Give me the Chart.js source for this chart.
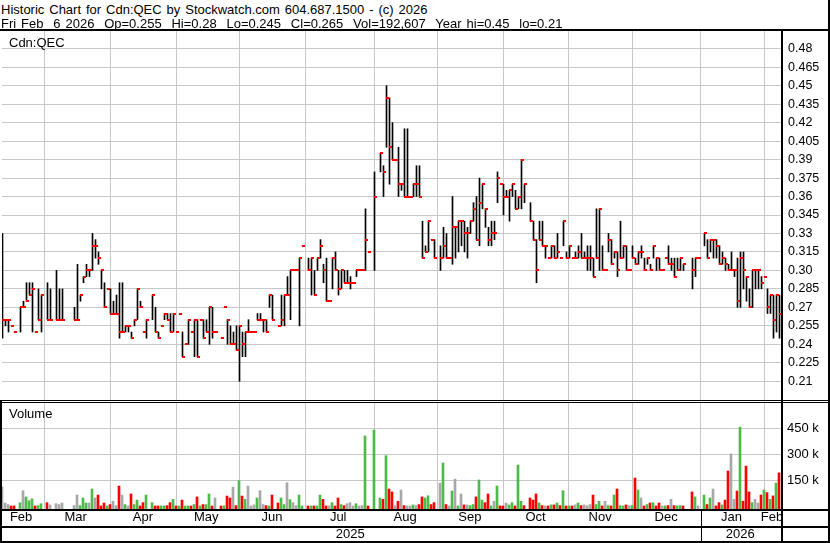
<!DOCTYPE html>
<html>
<head>
<meta charset="utf-8">
<title>Historic Chart for Cdn:QEC</title>
<script src="https://cdn.jsdelivr.net/npm/chart.js@4.4.1/dist/chart.umd.min.js"></script>
<style>
  html, body { margin: 0; padding: 0; background: #fff; }
  #wrap { position: relative; width: 830px; height: 543px; overflow: hidden; background: #fff;
          font-family: "Liberation Sans", Arial, sans-serif; color: #000; }
  .txt { position: absolute; font-size: 13px; line-height: 13px; white-space: pre; }
  .hdr { word-spacing: 1.3px; }
  .ln { position: absolute; background: #000; }
  canvas { position: absolute; left: 0; }
</style>
</head>
<body>
<div id="wrap">
  <canvas id="chart-price" width="830" height="369" style="top:31px"></canvas>
  <canvas id="chart-vol" width="830" height="138" style="top:403px"></canvas>

  <div class="txt hdr" style="left:1px;top:3px">Historic Chart for Cdn:QEC by Stockwatch.com 604.687.1500 - (c) 2026</div>
  <div class="txt hdr" style="left:1px;top:17px">Fri Feb  6 2026  Op=0.255  Hi=0.28  Lo=0.245  Cl=0.265  Vol=192,607  Year hi=0.45  lo=0.21</div>

  <div class="txt" style="left:9px;top:36px">Cdn:QEC</div>
  <div class="txt" style="left:9px;top:407px">Volume</div>

  <!-- frame -->
  <div class="ln" style="left:0;top:29px;width:830px;height:2px"></div>
  <div class="ln" style="left:0;top:400px;width:830px;height:1px"></div>
  <div class="ln" style="left:0;top:402px;width:830px;height:1px"></div>
  <div class="ln" style="left:0;top:509px;width:830px;height:2px"></div>
  <div class="ln" style="left:0;top:526px;width:830px;height:2px"></div>
  <div class="ln" style="left:0;top:541px;width:830px;height:2px"></div>
  <div class="ln" style="left:0;top:401px;width:2px;height:142px"></div>
  <div class="ln" style="left:781px;top:29px;width:2px;height:514px"></div>
  <div class="ln" style="left:828px;top:0;width:2px;height:543px"></div>
  <div class="ln" style="left:701px;top:511px;width:1px;height:30px"></div>
</div>

<script>
// Cdn:QEC daily bars, one slot per market day (Feb 2025 - Feb 6 2026), null = no trade

const highs = [
    0.33, 0.26, 0.26, 0.255, 0.25, null, 0.27, 0.275, 0.29, 0.29,
    0.29, 0.25, 0.285, 0.28, null, 0.29, 0.285, null, 0.30, 0.285,
    0.285, null, null, null, 0.27, 0.305, 0.28, 0.295, 0.305, 0.30,
    0.33, 0.325, 0.315, 0.30, 0.29, 0.285, 0.285, 0.275, 0.28, 0.29,
    0.29, 0.255, 0.255, 0.25, 0.26, 0.285, 0.275, 0.25, 0.26, null,
    0.28, 0.27, 0.25, 0.255, 0.265, 0.265, 0.265, 0.265, 0.25, 0.265,
    0.25, 0.24, 0.26, 0.25, 0.26, 0.26, 0.26, 0.26, 0.26, 0.27,
    0.27, 0.25, null, 0.245, 0.27, 0.26, 0.255, 0.25, 0.255, 0.255,
    0.25, 0.25, 0.26, 0.25, 0.25, 0.265, 0.265, 0.26, 0.26, 0.28,
    0.28, null, 0.255, 0.28, 0.28, 0.295, 0.30, 0.30, 0.30, 0.31,
    0.32, null, 0.31, 0.31, 0.30, 0.31, 0.325, 0.305, 0.31, 0.275,
    0.31, 0.315, 0.30, 0.30, 0.30, 0.30, 0.295, 0.29, 0.30, 0.30,
    0.30, 0.35, 0.315, null, 0.38, null, 0.395, 0.385, 0.45, 0.44,
    0.42, 0.39, 0.40, 0.37, 0.415, 0.415, 0.36, 0.37, 0.385, 0.385,
    0.34, 0.32, 0.34, 0.325, 0.325, null, 0.32, 0.335, 0.33, 0.31,
    0.36, 0.335, 0.34, 0.34, 0.34, 0.335, 0.34, 0.355, 0.36, 0.375,
    0.37, 0.35, 0.335, 0.34, 0.34, 0.38, 0.37, 0.37, 0.365, 0.365,
    0.37, 0.365, 0.36, 0.39, 0.37, null, 0.355, 0.34, 0.325, 0.34,
    0.34, 0.32, 0.31, 0.32, 0.32, 0.33, 0.31, 0.34, 0.315, 0.32,
    0.31, 0.315, 0.32, 0.33, 0.315, 0.32, 0.32, 0.31, 0.35, 0.35,
    0.32, 0.30, 0.33, 0.325, 0.315, 0.315, 0.34, 0.32, 0.32, 0.30,
    0.32, 0.31, 0.315, 0.32, 0.31, 0.31, 0.305, 0.32, 0.31, 0.31,
    0.30, 0.31, 0.32, 0.31, 0.31, 0.31, 0.31, 0.305, null, null,
    0.31, 0.31, 0.31, null, 0.33, 0.325, 0.325, 0.325, 0.325, 0.32,
    0.315, 0.31, 0.305, 0.315, 0.30, 0.31, 0.315, 0.315, 0.295, 0.285,
    0.30, 0.30, 0.30, 0.295, 0.295, 0.285, 0.28, 0.28, 0.28, 0.28
];

const lows = [
    0.245, 0.255, 0.25, 0.255, 0.25, null, 0.25, 0.27, 0.275, 0.28,
    0.25, 0.25, 0.26, 0.25, null, 0.26, 0.26, null, 0.26, 0.26,
    0.26, null, null, null, 0.26, 0.26, 0.275, 0.29, 0.295, 0.295,
    0.30, 0.31, 0.305, 0.285, 0.27, 0.285, 0.265, 0.265, 0.265, 0.245,
    0.25, 0.25, 0.25, 0.245, 0.255, 0.26, 0.27, 0.25, 0.245, null,
    0.26, 0.25, 0.245, 0.255, 0.26, 0.26, 0.25, 0.25, 0.25, 0.265,
    0.23, 0.24, 0.24, 0.25, 0.23, 0.23, 0.26, 0.245, 0.25, 0.24,
    0.245, 0.25, null, 0.245, 0.27, 0.24, 0.24, 0.24, 0.235, 0.21,
    0.23, 0.23, 0.25, 0.25, 0.25, 0.26, 0.26, 0.25, 0.25, 0.27,
    0.26, null, 0.255, 0.255, 0.255, 0.28, 0.26, 0.30, 0.30, 0.255,
    0.32, null, 0.30, 0.28, 0.28, 0.30, 0.31, 0.29, 0.275, 0.275,
    0.285, 0.30, 0.28, 0.285, 0.29, 0.29, 0.285, 0.29, 0.295, 0.30,
    0.30, 0.30, 0.315, null, 0.30, null, 0.38, 0.36, 0.40, 0.37,
    0.39, 0.39, 0.36, 0.365, 0.36, 0.36, 0.36, 0.36, 0.36, 0.36,
    0.31, 0.315, 0.315, 0.325, 0.31, null, 0.30, 0.31, 0.31, 0.31,
    0.305, 0.31, 0.315, 0.32, 0.315, 0.31, 0.33, 0.34, 0.325, 0.32,
    0.35, 0.335, 0.32, 0.32, 0.325, 0.355, 0.37, 0.345, 0.36, 0.34,
    0.36, 0.35, 0.35, 0.35, 0.355, null, 0.34, 0.325, 0.29, 0.325,
    0.32, 0.31, 0.31, 0.31, 0.31, 0.31, 0.31, 0.32, 0.31, 0.31,
    0.31, 0.31, 0.31, 0.31, 0.31, 0.30, 0.30, 0.295, 0.31, 0.30,
    0.30, 0.30, 0.315, 0.305, 0.31, 0.295, 0.31, 0.31, 0.30, 0.30,
    0.31, 0.305, 0.305, 0.31, 0.30, 0.305, 0.30, 0.31, 0.30, 0.30,
    0.30, 0.31, 0.305, 0.30, 0.295, 0.30, 0.30, 0.30, null, null,
    0.285, 0.295, 0.31, null, 0.32, 0.31, 0.315, 0.31, 0.31, 0.305,
    0.305, 0.30, 0.30, 0.30, 0.295, 0.27, 0.27, 0.285, 0.275, 0.27,
    0.27, 0.285, 0.285, 0.285, 0.295, 0.265, 0.265, 0.245, 0.25, 0.245
];

const closes = [
    0.26, 0.26, 0.26, 0.255, 0.25, null, 0.27, 0.27, 0.275, 0.28,
    0.285, 0.25, 0.26, 0.28, null, 0.26, 0.26, null, 0.26, 0.26,
    0.26, null, null, null, 0.26, 0.26, 0.28, 0.295, 0.30, 0.30,
    0.32, 0.32, 0.31, 0.30, 0.27, 0.285, 0.265, 0.265, 0.265, 0.25,
    0.25, 0.255, 0.255, 0.245, 0.26, 0.285, 0.27, 0.25, 0.26, null,
    0.28, 0.25, 0.245, 0.255, 0.265, 0.26, 0.25, 0.265, 0.25, 0.265,
    0.23, 0.24, 0.26, 0.25, 0.26, 0.23, 0.26, 0.245, 0.25, 0.27,
    0.25, 0.25, null, 0.245, 0.27, 0.26, 0.24, 0.24, 0.235, 0.255,
    0.24, 0.25, 0.25, 0.25, 0.25, 0.26, 0.26, 0.26, 0.25, 0.28,
    0.26, null, 0.255, 0.26, 0.28, 0.28, 0.30, 0.30, 0.30, 0.31,
    0.32, null, 0.30, 0.31, 0.28, 0.31, 0.32, 0.30, 0.275, 0.275,
    0.31, 0.30, 0.285, 0.30, 0.29, 0.29, 0.29, 0.29, 0.30, 0.30,
    0.30, 0.325, 0.315, null, 0.36, null, 0.395, 0.38, 0.44, 0.40,
    0.39, 0.39, 0.37, 0.37, 0.36, 0.36, 0.36, 0.37, 0.37, 0.36,
    0.31, 0.315, 0.34, 0.325, 0.31, null, 0.31, 0.32, 0.31, 0.31,
    0.335, 0.335, 0.34, 0.34, 0.33, 0.33, 0.34, 0.35, 0.325, 0.355,
    0.37, 0.35, 0.325, 0.33, 0.33, 0.375, 0.37, 0.36, 0.36, 0.365,
    0.37, 0.35, 0.36, 0.39, 0.37, null, 0.34, 0.325, 0.30, 0.325,
    0.32, 0.32, 0.31, 0.32, 0.31, 0.315, 0.31, 0.34, 0.31, 0.32,
    0.31, 0.31, 0.315, 0.31, 0.31, 0.31, 0.31, 0.295, 0.31, 0.35,
    0.30, 0.30, 0.325, 0.305, 0.315, 0.30, 0.31, 0.32, 0.30, 0.30,
    0.31, 0.305, 0.315, 0.315, 0.30, 0.31, 0.30, 0.32, 0.31, 0.30,
    0.30, 0.31, 0.305, 0.305, 0.295, 0.30, 0.31, 0.305, null, null,
    0.30, 0.31, 0.31, null, 0.33, 0.31, 0.325, 0.325, 0.32, 0.305,
    0.31, 0.305, 0.30, 0.30, 0.30, 0.275, 0.31, 0.30, 0.295, 0.27,
    0.30, 0.30, 0.30, 0.29, 0.295, 0.27, 0.28, 0.26, 0.28, 0.265
];

// volume in thousands of shares
const volumes = [
    113, 19, 10, 2, 2, null, 21, 90, 54, 32,
    43, 2, 4, 15, null, 21, 8, null, 15, 10,
    19, null, null, null, 4, 65, 4, 48, 19, 19,
    100, 48, 65, 2, 19, 2, 10, 29, 4, 117,
    65, 10, 2, 71, 10, 36, 2, 21, 65, null,
    21, 2, 2, 2, 2, 4, 21, 40, 2, 2,
    36, 2, 2, 2, 10, 54, 2, 10, 10, 71,
    2, 48, null, 2, 2, 59, 48, 111, 4, 148,
    59, 40, 117, 2, 8, 48, 90, 10, 4, 2,
    65, null, 19, 48, 10, 136, 38, 21, 4, 65,
    2, null, 2, 2, 2, 2, 65, 40, 2, 2,
    21, 2, 48, 10, 4, 15, 21, 2, 15, 2,
    4, 406, 2, null, 440, null, 48, 40, 292, 100,
    83, 4, 29, 94, 4, 2, 2, 8, 4, 10,
    54, 48, 61, 10, 21, null, 134, 250, 10, 2,
    88, 157, 2, 71, 8, 8, 4, 10, 54, 152,
    36, 21, 71, 2, 29, 117, 2, 2, 19, 8,
    21, 2, 238, 29, 4, null, 48, 36, 71, 19,
    4, 2, 2, 8, 8, 19, 4, 90, 2, 2,
    2, 8, 19, 4, 8, 4, 10, 65, 10, 29,
    2, 29, 4, 2, 65, 100, 4, 2, 8, 4,
    4, 163, 94, 48, 2, 10, 19, 21, 2, 19,
    2, 2, 4, 40, 4, 2, 4, 2, null, null,
    83, 54, 2, null, 65, 10, 48, 100, 2, 21,
    8, 36, 204, 302, 40, 88, 457, 29, 232, 83,
    21, 40, 19, 65, 94, 79, 40, 60, 134, 193
];

const priceTicks = [0.21, 0.225, 0.24, 0.255, 0.27, 0.285, 0.30, 0.315, 0.33, 0.345,
                    0.36, 0.375, 0.39, 0.405, 0.42, 0.435, 0.45, 0.465, 0.48];
const volTicks = [150, 300, 450];

// month boundaries and label centres, in day slots
const monthStarts = [13.9, 35.9, 57.9, 78.9, 101, 124, 144.9, 167, 188.8, 209.9, 232.7, 254.1];
const monthNames = ['Feb', 'Mar', 'Apr', 'May', 'Jun', 'Jul', 'Aug', 'Sep', 'Oct', 'Nov', 'Dec', 'Jan', 'Feb'];
const monthCenters = [6.2, 24.4, 46.8, 67.9, 89.8, 111.9, 134.2, 155.8, 177.7, 199.2, 221.2, 243, 256.5];
const yearNames = ['2025', '2026'];
const yearCenters = [115.9, 245.9];

const priceMin = 0.1948, priceMax = 0.4944;
const volMin = -15.6, volMax = 596;
const slotMin = -1 / 6, slotMax = 260 - 1 / 6;

const GRID = '#c8c8c8';
const UP = '#4cbb47', DOWN = '#ff0000', FLAT = '#a8a8a8';
const FONT = '"Liberation Sans", Arial, sans-serif';

Chart.defaults.font.family = FONT;
Chart.defaults.color = '#000';

const slots = highs.map((h, k) => k).filter(k => highs[k] !== null);
const hiLoData = slots.map(k => ({ x: k, y: [lows[k], highs[k]] }));
const closeData = slots.map(k => ({ x: k, y: closes[k] }));
const volData = slots.map(k => ({ x: k, y: volumes[k] }));
const volColors = slots.map((k, i) => {
    if (i === 0) return FLAT;
    const prev = closes[slots[i - 1]];
    return closes[k] > prev ? UP : closes[k] < prev ? DOWN : FLAT;
});

// red close tick, drawn to the right of the high-low line
const closeTick = document.createElement('canvas');
closeTick.width = 5;
closeTick.height = 2;
const tctx = closeTick.getContext('2d');
tctx.fillStyle = '#ff0000';
tctx.fillRect(2, 0, 3, 2);

const crisp = {
    id: 'crisp',
    beforeDraw: chart => { chart.ctx.imageSmoothingEnabled = false; }
};

const setTicks = values => scale => { scale.ticks = values.map(v => ({ value: v })); };
// fixed axis sizes, no extra room for edge labels
const fixWidth = w => s => { s.width = w; s.paddingTop = 0; s.paddingBottom = 0; };
const fixHeight = h => s => { s.height = h; s.paddingLeft = 0; s.paddingRight = 0; };
const fmtPrice = v => {
    let s = Number(v).toFixed(3);
    if (s.endsWith('0')) s = s.slice(0, -1);
    return s;
};

// Price panel
new Chart(document.getElementById('chart-price').getContext('2d'), {
    type: 'bar',
    data: {
        datasets: [
            {
                type: 'line',
                data: closeData,
                showLine: false,
                pointStyle: closeTick,
                pointRadius: 2,
                order: 0
            },
            {
                data: hiLoData,
                backgroundColor: '#000',
                borderWidth: 0,
                barThickness: 1,
                order: 1
            }
        ]
    },
    options: {
        responsive: false,
        animation: false,
        events: [],
        layout: { autoPadding: false, padding: { left: 2, right: 0, top: 0, bottom: 0 } },
        plugins: { legend: { display: false }, tooltip: { enabled: false } },
        scales: {
            x: {
                type: 'linear', min: slotMin, max: slotMax, offset: false,
                afterBuildTicks: setTicks(monthStarts),
                afterFit: fixHeight(0),
                ticks: { display: false },
                grid: { color: GRID, drawTicks: false, offset: false },
                border: { display: false }
            },
            y: {
                position: 'right', min: priceMin, max: priceMax,
                afterBuildTicks: setTicks(priceTicks),
                afterFit: fixWidth(48),
                ticks: { padding: 6, font: { size: 12.5 }, callback: v => fmtPrice(v) },
                grid: { color: GRID, drawTicks: false },
                border: { display: false }
            }
        }
    },
    plugins: [crisp]
});

// Volume panel with month / year rows
new Chart(document.getElementById('chart-vol').getContext('2d'), {
    type: 'bar',
    data: {
        datasets: [{
            data: volData,
            backgroundColor: volColors,
            borderWidth: 0,
            barThickness: 2,
            base: volMin
        }]
    },
    options: {
        responsive: false,
        animation: false,
        events: [],
        layout: { autoPadding: false, padding: { left: 2, right: 0, top: 0, bottom: 0 } },
        plugins: { legend: { display: false }, tooltip: { enabled: false } },
        scales: {
            x: { type: 'linear', display: false, min: 0, max: 260, offset: false },
            xm: {
                type: 'linear', position: 'bottom', min: slotMin, max: slotMax, offset: false,
                afterBuildTicks: setTicks(monthStarts.concat(monthCenters)),
                afterFit: fixHeight(17),
                ticks: {
                    autoSkip: false, maxRotation: 0, minRotation: 0, padding: 1,
                    font: { size: 13 },
                    callback: (v, i) => i < monthStarts.length ? '' : monthNames[i - monthStarts.length]
                },
                grid: {
                    drawTicks: false, offset: false,
                    color: ctx => ctx.index < monthStarts.length ? GRID : 'rgba(0,0,0,0)'
                },
                border: { display: false }
            },
            xy: {
                type: 'linear', position: 'bottom', min: slotMin, max: slotMax, offset: false,
                afterBuildTicks: setTicks(yearCenters),
                afterFit: fixHeight(15),
                ticks: {
                    autoSkip: false, maxRotation: 0, minRotation: 0, padding: 1,
                    font: { size: 13 },
                    callback: (v, i) => yearNames[i]
                },
                grid: { display: false, drawTicks: false },
                border: { display: false }
            },
            y: {
                position: 'right', min: volMin, max: volMax,
                afterBuildTicks: setTicks(volTicks),
                afterFit: fixWidth(48),
                ticks: { padding: 5, font: { size: 13 }, callback: v => v + ' k' },
                grid: { color: GRID, drawTicks: false },
                border: { display: false }
            }
        }
    }
});
</script>
</body>
</html>
